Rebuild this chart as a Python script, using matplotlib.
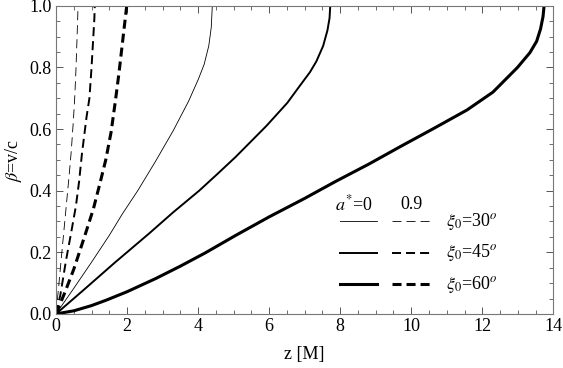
import matplotlib
matplotlib.use('Agg')
from matplotlib import pyplot as plt
from matplotlib.ticker import MultipleLocator, FormatStrFormatter

plt.rcParams['font.family'] = ['Liberation Serif', 'DejaVu Serif']
plt.rcParams['mathtext.fontset'] = 'stix'

# a* = 0 (solid)
z30_a0 = [0, 0.5, 1.03, 1.5, 1.87, 2.3, 2.81, 3.3, 3.73, 4.0, 4.17, 4.3, 4.37, 4.40]
b30_a0 = [0, 0.083, 0.173, 0.255, 0.325, 0.40, 0.497, 0.595, 0.69, 0.76, 0.81, 0.87, 0.93, 1.0]
z45_a0 = [0, 0.8, 1.64, 2.63, 3.3, 4.03, 4.55, 5.06, 5.92, 6.51, 6.86, 7.15, 7.33, 7.52, 7.64, 7.70, 7.72]
b45_a0 = [0, 0.08, 0.165, 0.262, 0.33, 0.40, 0.455, 0.51, 0.61, 0.685, 0.74, 0.785, 0.82, 0.87, 0.92, 0.96, 1.0]
z60_a0 = [0, 0.5, 1.0, 1.4, 2.0, 2.81, 3.5, 4.2, 5.06, 6.0, 7.0, 7.87, 8.8, 9.69, 10.6,
          11.57, 12.3, 12.99, 13.34, 13.53, 13.64, 13.71, 13.74]
b60_a0 = [0, 0.01, 0.027, 0.044, 0.072, 0.115, 0.155, 0.198, 0.255, 0.315, 0.375, 0.43, 0.486, 0.543, 0.60,
          0.662, 0.72, 0.80, 0.848, 0.885, 0.925, 0.965, 1.0]

# a* = 0.9 (dashed)
z30_a9 = [0, 0.08, 0.16, 0.30, 0.37, 0.43, 0.49, 0.53, 0.56, 0.59, 0.61, 0.62]
b30_a9 = [0, 0.095, 0.195, 0.365, 0.45, 0.53, 0.63, 0.71, 0.79, 0.89, 0.96, 1.0]
z45_a9 = [0, 0.12, 0.28, 0.42, 0.56, 0.65, 0.73, 0.86, 0.94, 1.0, 1.05, 1.08, 1.09]
b45_a9 = [0, 0.06, 0.173, 0.26, 0.35, 0.43, 0.52, 0.64, 0.70, 0.80, 0.90, 0.96, 1.0]
z60_a9 = [0, 0.25, 0.5, 0.8, 1.05, 1.25, 1.40, 1.55, 1.67, 1.77, 1.85, 1.92, 1.99]
b60_a9 = [0, 0.07, 0.145, 0.25, 0.34, 0.43, 0.50, 0.59, 0.69, 0.78, 0.86, 0.93, 1.0]

xi_labels = ['30', '45', '60']
widths = [0.6, 1.4, 2.2]


def dash(lw):
    # dash pattern in points, undone from matplotlib's linewidth scaling
    return (0, (6.5 / lw, 3.6 / lw))


fig = plt.figure(figsize=(5.63, 3.68), dpi=100)
ax = fig.add_axes([0.0995, 0.147, 0.8833, 0.837])

solid = [(z30_a0, b30_a0), (z45_a0, b45_a0), (z60_a0, b60_a0)]
dashed = [(z30_a9, b30_a9), (z45_a9, b45_a9), (z60_a9, b60_a9)]
for (z, b), lw in zip(solid, widths):
    ax.plot(z, b, color='black', lw=lw, solid_joinstyle='round')
for (z, b), lw in zip(dashed, widths):
    ax.plot(z, b, color='black', lw=lw, ls=dash(lw))

ax.set_xlim(0, 14)
ax.set_ylim(0, 1)
ax.xaxis.set_major_locator(MultipleLocator(2))
ax.xaxis.set_minor_locator(MultipleLocator(0.5))
ax.yaxis.set_major_locator(MultipleLocator(0.2))
ax.yaxis.set_minor_locator(MultipleLocator(0.05))
ax.yaxis.set_major_formatter(FormatStrFormatter('%.1f'))
ax.tick_params(which='both', direction='in', top=True, right=True,
               color='#555555', labelsize=13, pad=3)
ax.tick_params(which='major', length=5, width=0.7)
ax.tick_params(which='minor', length=3, width=0.6)
for s in ax.spines.values():
    s.set_color('#777777')
    s.set_linewidth(0.8)

ax.set_xlabel('z [M]', fontsize=13, labelpad=8)
ax.set_ylabel(r'$\beta$=v/c', fontsize=13, labelpad=4)

# legend
tr = ax.transAxes
ax.text(0.561, 0.354, r'$a^{*}$=0', transform=tr, fontsize=13, va='center', ha='left')
ax.text(0.692, 0.354, '0.9', transform=tr, fontsize=13, va='center', ha='left')
rows = [0.30, 0.199, 0.097]
for yr, lw, lab in zip(rows, widths, xi_labels):
    ax.plot([0.571, 0.646], [yr, yr], transform=tr, color='black', lw=lw)
    ax.plot([0.676, 0.753], [yr, yr], transform=tr, color='black', lw=lw, ls=dash(lw))
    ax.text(0.785, yr, r'$\xi_0$=' + lab + r'$^o$', transform=tr, fontsize=13,
            va='center', ha='left')

fig.savefig('out.png', dpi=100)
